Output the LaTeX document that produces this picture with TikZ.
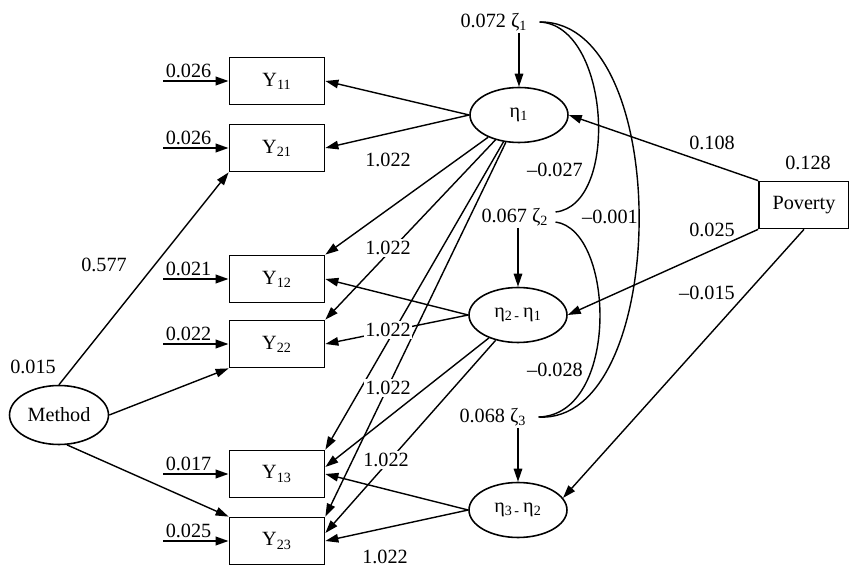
\documentclass[tikz,border=0pt]{standalone}
\usepackage{fontspec}
\setmainfont{Liberation Serif}
\usetikzlibrary{arrows.meta,shapes.geometric}
\tikzset{
  obs/.style={draw, line width=1pt, minimum width=1.9cm, minimum height=0.94cm, inner sep=0pt},
  lat/.style={draw, ellipse, line width=0.9pt, minimum width=1.96cm, minimum height=1.1cm, inner sep=0pt},
  arrow/.style={-{Triangle[length=2.6mm,width=1.7mm]}, line width=0.8pt},
  err/.style={arrow, line width=1.2pt},
  cov/.style={line width=0.8pt},
  est/.style={inner sep=1pt},
  onpath/.style={est, fill=white}
}
\begin{document}
\begin{tikzpicture}[x=0.02cm, y=-0.02cm, font=\fontsize{11.5}{13}\selectfont]
\useasboundingbox (0,0) rectangle (849,567);
\node[obs] (y11) at (277,81) {Y\textsubscript{11}};
\node[obs] (y21) at (277,148) {Y\textsubscript{21}};
\node[obs] (y12) at (277,279) {Y\textsubscript{12}};
\node[obs] (y22) at (277,344) {Y\textsubscript{22}};
\node[obs] (y13) at (277,474) {Y\textsubscript{13}};
\node[obs] (y23) at (277,541) {Y\textsubscript{23}};
\node[lat] (eta1) at (519,115) {η\textsubscript{1}};
\node[lat] (eta2) at (518,315) {η\textsubscript{2\,-}\,η\textsubscript{1}};
\node[lat] (eta3) at (518,510) {η\textsubscript{3\,-}\,η\textsubscript{2}};
\node[lat, minimum width=1.98cm, minimum height=1.18cm] (meth) at (59,415) {Method};
\node[obs, minimum width=1.8cm] (pov) at (804,205) {Poverty};
\node[est] (z1) at (494,22) {0.072 ζ\textsubscript{1}};
\node[est] (z2) at (515,217) {0.067 ζ\textsubscript{2}};
\node[est] (z3) at (493,417) {0.068 ζ\textsubscript{3}};
\coordinate (e11) at (163,81);
\coordinate (e21) at (163,148);
\coordinate (e12) at (163,279);
\coordinate (e22) at (163,344);
\coordinate (e13) at (163,474);
\coordinate (e23) at (163,541);
\draw[err] (e11) -- (y11) node[est, pos=0, above right] {0.026};
\draw[err] (e21) -- (y21) node[est, pos=0, above right] {0.026};
\draw[err] (e12) -- (y12) node[est, pos=0, above right] {0.021};
\draw[err] (e22) -- (y22) node[est, pos=0, above right] {0.022};
\draw[err] (e13) -- (y13) node[est, pos=0, above right] {0.017};
\draw[err] (e23) -- (y23) node[est, pos=0, above right] {0.025};
\draw[arrow] (z1.south -| eta1) -- (eta1);
\draw[arrow] (z2.south -| eta2) -- (eta2);
\draw[arrow] (z3.south -| eta3) -- (eta3);
\draw[cov] ([xshift=2mm]z1.east) .. controls (610,25) and (620,205) .. ([xshift=1mm,yshift=1mm]z2.east);
\draw[cov] ([xshift=2mm]z1.east) .. controls (675,20) and (670,425) .. ([xshift=2mm]z3.east);
\draw[cov] ([xshift=1mm,yshift=-1mm]z2.east) .. controls (615,230) and (620,415) .. ([xshift=2mm]z3.east);
\draw[arrow] (eta1.west) -- (y11.east);
\draw[arrow] (eta1.west) -- (y21.east);
\draw[arrow] (eta1) -- (y12.north east);
\draw[arrow] (eta1) -- (y22.north east);
\draw[arrow] (eta1) -- (y13.north east);
\draw[arrow] (eta1) -- (y23.north east);
\draw[arrow] (eta2.west) -- (y12.east);
\draw[arrow] (eta2.west) -- (y22.east);
\draw[arrow] (eta2) -- ([yshift=1.4mm]y13.east);
\draw[arrow] (eta2) -- ([yshift=1.6mm]y23.east);
\draw[arrow] (eta3.west) -- (y13.east);
\draw[arrow] (eta3.west) -- (y23.east);
\draw[arrow] (meth.north) -- (y21.south west);
\draw[arrow] (meth.east) -- (y22.south west);
\draw[arrow] (meth.285) -- (y23.north west);
\draw[arrow] (pov.north west) -- (eta1.east);
\draw[arrow] (pov.south west) -- (eta2.east);
\draw[arrow] (pov.south) -- (eta3.15);
\node[est] (l1) at (388,160) {1.022};
\node[onpath] (l2) at (388,248) {1.022};
\node[onpath] (l3) at (388,330) {1.022};
\node[onpath] (l4) at (388,388) {1.022};
\node[onpath] (l5) at (386,460) {1.022};
\node[est] (l6) at (385,557) {1.022};
\node[est] (vm) at (33,367) {0.015};
\node[est] (bm) at (104,265) {0.577};
\node[est] (vp) at (808,163) {0.128};
\node[est] (b1) at (712,143) {0.108};
\node[est] (b2) at (712,230) {0.025};
\node[est] (b3) at (707,293) {--0.015};
\node[est] (c12) at (555,170) {--0.027};
\node[est] (c13) at (610,217) {--0.001};
\node[est] (c23) at (555,370) {--0.028};
\end{tikzpicture}
\end{document}
